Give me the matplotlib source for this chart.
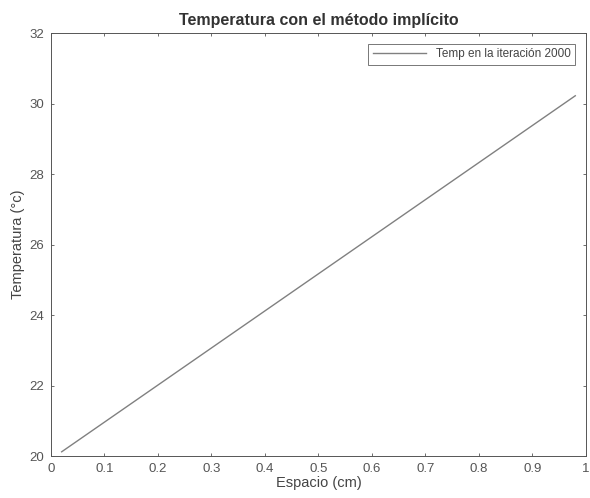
import matplotlib
matplotlib.use("Agg")
import matplotlib.pyplot as plt

# temperature profile at iteration 2000
espacio = [0.02, 0.98]
temperatura = [20.12, 30.22]

xticks = [0, 0.1, 0.2, 0.3, 0.4, 0.5, 0.6, 0.7, 0.8, 0.9, 1]
yticks = [20, 22, 24, 26, 28, 30, 32]

plt.rcParams["font.family"] = ["Liberation Sans", "DejaVu Sans"]

fig = plt.figure(figsize=(5.9, 4.98), dpi=100)
ax = fig.add_axes([0.0864, 0.0843, 0.9068, 0.8494])

ax.plot(espacio, temperatura, color="#808080", lw=1.0, label="Temp en la iteración 2000")

ax.set_xlim(0, 1)
ax.set_ylim(20, 32)
ax.set_xticks(xticks)
ax.set_xticklabels(["0", "0.1", "0.2", "0.3", "0.4", "0.5", "0.6", "0.7", "0.8", "0.9", "1"])
ax.set_yticks(yticks)
ax.tick_params(direction="in", top=True, right=True, labelsize=9.5,
               colors="#555555", length=2.5, width=0.6, pad=5)
for s in ax.spines.values():
    s.set_color("#555555")
    s.set_linewidth(0.7)

ax.set_xlabel("Espacio (cm)", fontsize=10.5, color="#444444", labelpad=1)
ax.set_ylabel("Temperatura (°c)", fontsize=10.5, color="#444444", labelpad=3)
ax.set_title("Temperatura con el método implícito", fontsize=11.5, fontweight="bold",
             color="#333333", pad=6)

leg = ax.legend(loc="upper right", fontsize=8.5, frameon=True, fancybox=False,
                edgecolor="#555555", handlelength=4.5, borderaxespad=0.9)
leg.get_frame().set_linewidth(0.7)
for t in leg.get_texts():
    t.set_color("#444444")

fig.savefig("out.png", dpi=100)
